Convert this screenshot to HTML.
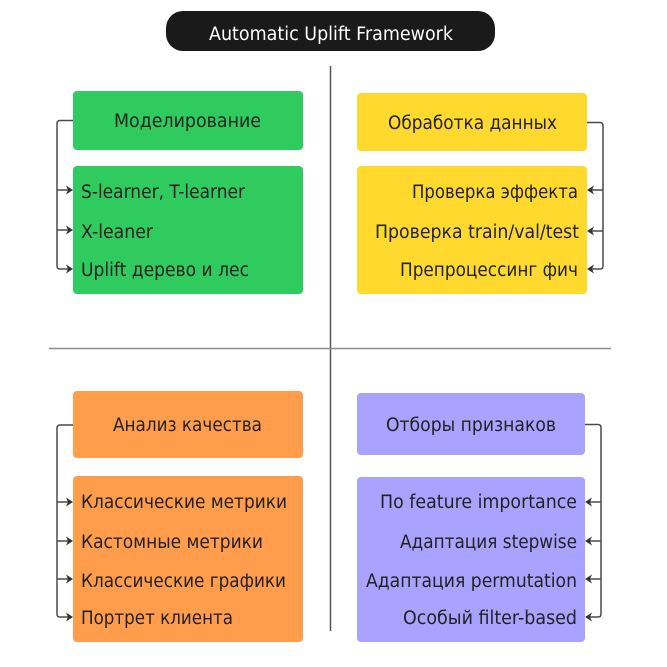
<!DOCTYPE html>
<html lang="ru">
<head>
<meta charset="utf-8">
<title>Automatic Uplift Framework</title>
<style>
html,body{margin:0;padding:0;background:#fff;width:667px;height:667px;overflow:hidden}
svg{display:block}
text{font-family:"DejaVu Sans","Liberation Sans",sans-serif;font-size:18.5px;fill:#222}
.c{fill:none;stroke:#4a4a4a;stroke-width:1.5}
.a{fill:#333;stroke:none}
</style>
</head>
<body>
<svg width="667" height="667" viewBox="0 0 667 667" xmlns="http://www.w3.org/2000/svg">
<rect x="166" y="11" width="329" height="40" rx="17" fill="#1a1a1a"/>
<text x="209" y="40" textLength="244" lengthAdjust="spacingAndGlyphs" style="fill:#fff">Automatic Uplift Framework</text>

<path d="M330.500 66V631" stroke="#555" stroke-width="1.500"/>
<path d="M49 348.500H611" stroke="#8c8c8c" stroke-width="1.500"/>

<rect x="73" y="91" width="230" height="59" rx="4" fill="#2fcb5f"/>
<rect x="73" y="166" width="230" height="128" rx="4" fill="#2fcb5f"/>
<rect x="357" y="93" width="230" height="58" rx="4" fill="#ffd92e"/>
<rect x="357" y="166" width="230" height="128" rx="4" fill="#ffd92e"/>
<rect x="73" y="391" width="230" height="67" rx="4" fill="#ff9d4d"/>
<rect x="73" y="476" width="230" height="166" rx="4" fill="#ff9d4d"/>
<rect x="357" y="393" width="228" height="62" rx="4" fill="#aaa2ff"/>
<rect x="357" y="477" width="228" height="165" rx="4" fill="#aaa2ff"/>

<path class="c" d="M73 120.500H60Q57 120.500 57 123.500V266Q57 269 60 269H68M57 190H68M57 230H68"/>
<path class="a" d="M66 185.500L73 190L66 194.500L68 190ZM66 225.500L73 230L66 234.500L68 230ZM66 264.500L73 269L66 273.500L68 269Z"/>

<path class="c" d="M587 122.500H600Q603 122.500 603 125.500V266Q603 269 600 269H592M603 190H592M603 231H592"/>
<path class="a" d="M594 185.500L587 190L594 194.500L592 190ZM594 226.500L587 231L594 235.500L592 231ZM594 264.500L587 269L594 273.500L592 269Z"/>

<path class="c" d="M73 425H60Q57 425 57 428V614Q57 617 60 617H68M57 502H68M57 541H68M57 579H68"/>
<path class="a" d="M66 497.500L73 502L66 506.500L68 502ZM66 536.500L73 541L66 545.500L68 541ZM66 574.500L73 579L66 583.500L68 579ZM66 612.500L73 617L66 621.500L68 617Z"/>

<path class="c" d="M585 424.500H598Q601 424.500 601 427.500V614Q601 617 598 617H590M601 502H590M601 541H590M601 579H590"/>
<path class="a" d="M592 497.500L585 502L592 506.500L590 502ZM592 536.500L585 541L592 545.500L590 541ZM592 574.500L585 579L592 583.500L590 579ZM592 612.500L585 617L592 621.500L590 617Z"/>

<text x="114" y="127" textLength="147" lengthAdjust="spacingAndGlyphs">Моделирование</text>
<text x="81" y="198" textLength="164" lengthAdjust="spacingAndGlyphs">S-learner, T-learner</text>
<text x="81" y="238" textLength="72" lengthAdjust="spacingAndGlyphs">X-leaner</text>
<text x="81" y="276" textLength="168" lengthAdjust="spacingAndGlyphs">Uplift дерево и лес</text>

<text x="388" y="129" textLength="169" lengthAdjust="spacingAndGlyphs">Обработка данных</text>
<text x="412" y="198" textLength="166" lengthAdjust="spacingAndGlyphs">Проверка эффекта</text>
<text x="375" y="238" textLength="204" lengthAdjust="spacingAndGlyphs">Проверка train/val/test</text>
<text x="400" y="276" textLength="178" lengthAdjust="spacingAndGlyphs">Препроцессинг фич</text>

<text x="113" y="431" textLength="149" lengthAdjust="spacingAndGlyphs">Анализ качества</text>
<text x="81" y="508" textLength="206" lengthAdjust="spacingAndGlyphs">Классические метрики</text>
<text x="81" y="548" textLength="182" lengthAdjust="spacingAndGlyphs">Кастомные метрики</text>
<text x="81" y="587" textLength="205" lengthAdjust="spacingAndGlyphs">Классические графики</text>
<text x="81" y="624" textLength="152" lengthAdjust="spacingAndGlyphs">Портрет клиента</text>

<text x="386" y="431" textLength="170" lengthAdjust="spacingAndGlyphs">Отборы признаков</text>
<text x="380" y="508" textLength="197" lengthAdjust="spacingAndGlyphs">По feature importance</text>
<text x="400" y="548" textLength="177" lengthAdjust="spacingAndGlyphs">Адаптация stepwise</text>
<text x="366" y="587" textLength="211" lengthAdjust="spacingAndGlyphs">Адаптация permutation</text>
<text x="403" y="624" textLength="174" lengthAdjust="spacingAndGlyphs">Особый filter-based</text>
</svg>
</body>
</html>
